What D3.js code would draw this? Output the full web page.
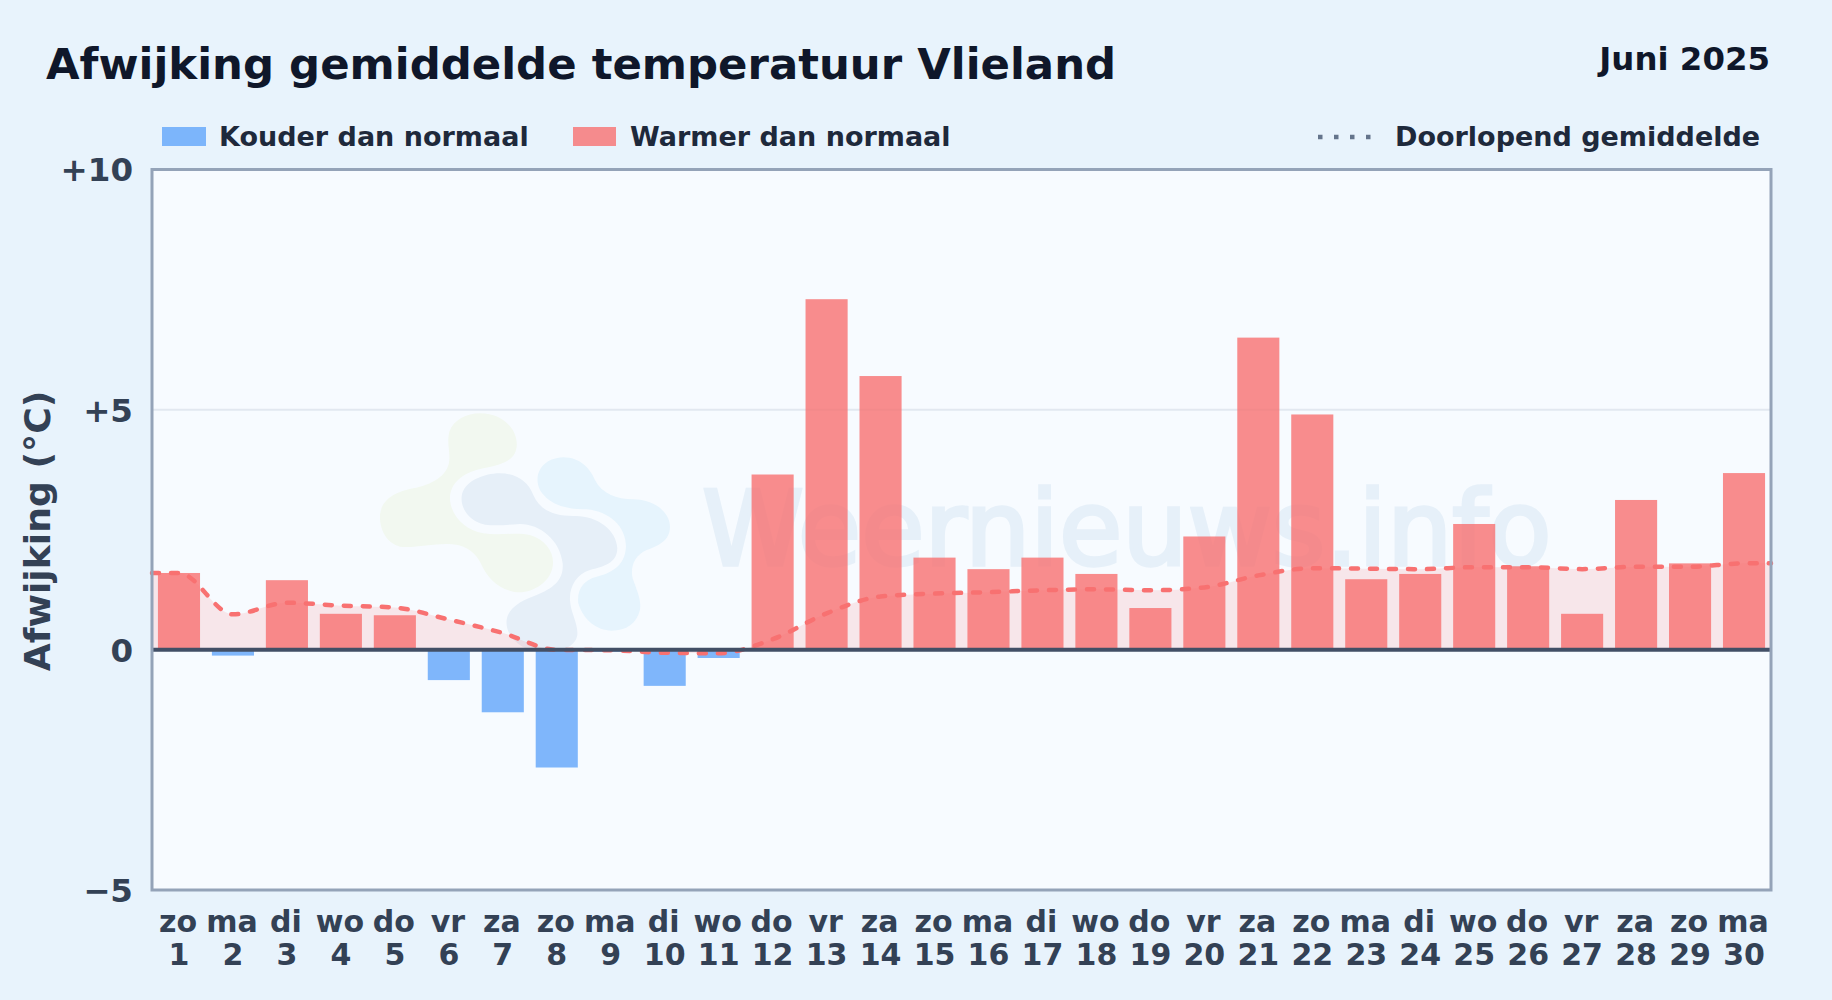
<!DOCTYPE html>
<html lang="nl">
<head>
<meta charset="utf-8">
<title>Afwijking gemiddelde temperatuur Vlieland</title>
<script src="https://cdn.jsdelivr.net/npm/d3@7"></script>
<style>
  html, body { margin: 0; padding: 0; background: #e8f3fc; }
  svg { display: block; font-family: "DejaVu Sans", sans-serif; font-weight: bold; }
</style>
</head>
<body>
<div class="graph"><svg></svg></div>
<script>
const days = ['1', '2', '3', '4', '5', '6', '7', '8', '9', '10', '11', '12', '13', '14', '15',
  '16', '17', '18', '19', '20', '21', '22', '23', '24', '25', '26', '27', '28', '29', '30']
const weekdays = ['zo', 'ma', 'di', 'wo', 'do', 'vr', 'za', 'zo', 'ma', 'di', 'wo', 'do', 'vr', 'za', 'zo',
  'ma', 'di', 'wo', 'do', 'vr', 'za', 'zo', 'ma', 'di', 'wo', 'do', 'vr', 'za', 'zo', 'ma']
const deviation = [1.6, -0.12, 1.45, 0.75, 0.72, -0.63, -1.3, -2.45, -0.04, -0.75, -0.17, 3.65, 7.3, 5.7, 1.92,
  1.68, 1.92, 1.58, 0.87, 2.36, 6.5, 4.9, 1.47, 1.58, 2.62, 1.74, 0.75, 3.12, 1.8, 3.68]
const runningMean = [1.6, 0.74, 0.98, 0.92, 0.88, 0.63, 0.35, 0.0, -0.01, -0.06, -0.07, 0.22, 0.76, 1.11, 1.17,
  1.2, 1.24, 1.26, 1.24, 1.3, 1.55, 1.7, 1.69, 1.68, 1.72, 1.72, 1.68, 1.73, 1.73, 1.8]
const yTicks = [-5, 0, 5, 10]
const yDomain = [-5, 10]

const WIDTH = 1832
const HEIGHT = 1000
const plot = { left: 152, right: 1771, top: 169.5, bottom: 890 }

const COLD = 'rgba(96, 165, 250, 0.8)'
const WARM = 'rgba(248, 113, 113, 0.8)'

const svg = d3.select('.graph').select('svg')
  .attr('width', WIDTH)
  .attr('height', HEIGHT)

const x = d3.scaleBand().domain(days).range([plot.left, plot.right]).paddingInner(0.22).paddingOuter(0.11)
const y = d3.scaleLinear().domain(yDomain).range([plot.bottom, plot.top])

/**
 * Draws the title, the month and the legend above the plot.
 */
function appendHeader () {
  svg.append('text')
    .text('Afwijking gemiddelde temperatuur Vlieland')
    .attr('x', 46).attr('y', 79)
    .attr('fill', '#0f172a')
    .attr('font-size', 43.4)

  svg.append('text')
    .text('Juni 2025')
    .attr('x', 1770).attr('y', 70)
    .attr('text-anchor', 'end')
    .attr('fill', '#0f172a')
    .attr('font-size', 32.4)

  svg.append('rect').attr('x', 162).attr('y', 127).attr('width', 44).attr('height', 19).attr('fill', COLD)
  svg.append('rect').attr('x', 573).attr('y', 127).attr('width', 43).attr('height', 19).attr('fill', WARM)
  svg.append('line')
    .attr('x1', 1318).attr('x2', 1376).attr('y1', 137).attr('y2', 137)
    .attr('stroke', '#64748b')
    .attr('stroke-width', 4.5)
    .attr('stroke-dasharray', '4.5 11.5')

  const labels = [['Kouder dan normaal', 219], ['Warmer dan normaal', 630], ['Doorlopend gemiddelde', 1395]]
  labels.forEach(([label, left]) => {
    svg.append('text')
      .text(label)
      .attr('x', left).attr('y', 146)
      .attr('fill', '#1e293b')
      .attr('font-size', 27)
  })
}

/**
 * Draws the faded logo and site name behind the bars.
 */
function appendWatermark () {
  const logo = svg.append('g').attr('transform', 'translate(340, 390) scale(0.3333)')
  logo.append('path')
    .attr('fill', '#f2f8f0')
    .attr('d', 'M420,70 C490,70 535,120 530,170 C525,215 480,225 430,235 C380,245 335,270 330,320 C328,370 370,420 430,430 C480,438 530,425 570,435 C620,450 645,490 638,530 C630,580 570,615 520,605 C470,595 440,560 420,515 C400,480 370,462 320,462 C270,462 220,475 180,470 C140,460 118,420 120,375 C125,325 170,305 220,295 C270,285 325,260 328,210 C330,180 320,160 328,125 C340,90 380,70 420,70 Z')
  logo.append('path')
    .attr('fill', '#e6eff8')
    .attr('d', 'M480,250 C530,250 565,275 580,315 C600,360 640,378 700,378 C770,375 830,420 832,475 C832,520 790,530 750,540 C710,552 688,590 690,630 C692,670 715,700 712,735 C705,780 640,790 590,785 C530,775 495,730 500,690 C505,650 550,630 590,615 C640,595 672,570 668,520 C660,450 600,402 540,402 C490,405 440,412 410,395 C380,380 362,350 365,320 C370,275 430,250 480,250 Z')
  logo.append('path')
    .attr('fill', '#e6f4fd')
    .attr('d', 'M670,202 C720,202 750,235 765,270 C785,310 830,328 880,328 C940,328 990,365 990,410 C990,450 960,465 920,480 C885,495 870,530 878,565 C890,600 905,630 900,660 C890,700 860,722 815,722 C770,722 730,690 715,640 C710,600 730,570 770,560 C810,550 855,530 858,470 C858,410 810,365 740,358 C690,358 630,350 600,300 C580,260 600,205 670,202 Z')

  svg.append('text')
    .text('Weernieuws.info')
    .attr('x', 702).attr('y', 565)
    .attr('fill', '#e6f0f9')
    .attr('stroke', '#e6f0f9')
    .attr('stroke-width', 3.5)
    .attr('font-weight', 'normal')
    .attr('font-size', 103)
}

/**
 * Draws the running mean, its filled area and the bars.
 */
function appendSeries () {
  const center = (i) => x(days[i]) + x.bandwidth() / 2
  const points = runningMean.map((v, i) => [center(i), v])
  points.unshift([plot.left, runningMean[0]])
  points.push([plot.right, runningMean[runningMean.length - 1]])

  svg.append('path')
    .attr('fill', 'rgba(248, 113, 113, 0.15)')
    .attr('d', d3.area()
      .x((d) => d[0])
      .y0(y(0))
      .y1((d) => y(d[1]))
      .curve(d3.curveMonotoneX)(points))

  svg.append('g')
    .selectAll('rect')
    .data(deviation)
    .join('rect')
    .attr('x', (d, i) => x(days[i]))
    .attr('y', (d) => y(Math.max(d, 0)))
    .attr('width', x.bandwidth())
    .attr('height', (d) => Math.abs(y(d) - y(0)))
    .attr('fill', (d) => d < 0 ? COLD : WARM)

  svg.append('path')
    .attr('fill', 'none')
    .attr('stroke', '#f87171')
    .attr('stroke-width', 4.5)
    .attr('stroke-linecap', 'round')
    .attr('stroke-dasharray', '7 12')
    .attr('d', d3.line()
      .x((d) => d[0])
      .y((d) => y(d[1]))
      .curve(d3.curveMonotoneX)(points))
}

/**
 * Draws the axes, the zero line and the plot border.
 */
function appendAxes () {
  const format = (d) => d > 0 ? '+' + d : d < 0 ? '\u2212' + Math.abs(d) : '0'
  const yAxis = svg.append('g')
    .attr('transform', `translate(${plot.left}, 1)`)
    .call(d3.axisLeft(y).tickValues(yTicks).tickFormat(format).tickSize(0).tickPadding(19))
  yAxis.select('.domain').remove()
  yAxis.selectAll('text')
    .attr('fill', '#334155')
    .attr('font-size', 32.5)
    .attr('font-family', '"DejaVu Sans", sans-serif')

  const xAxis = svg.append('g')
    .attr('transform', `translate(0, ${plot.bottom})`)
    .call(d3.axisBottom(x).tickFormat((d, i) => weekdays[i]).tickSize(0))
  xAxis.select('.domain').remove()
  xAxis.selectAll('text')
    .attr('fill', '#334155')
    .attr('font-size', 30)
    .attr('font-family', '"DejaVu Sans", sans-serif')
    .attr('x', -1)
    .attr('y', 42)
    .attr('dy', 0)
  xAxis.selectAll('.tick')
    .append('text')
    .text((d) => d)
    .attr('y', 75)
    .attr('text-anchor', 'middle')
    .attr('fill', '#334155')
    .attr('font-size', 30)
    .attr('font-family', '"DejaVu Sans", sans-serif')

  svg.append('text')
    .text('Afwijking (°C)')
    .attr('transform', 'translate(50, 531) rotate(-90)')
    .attr('text-anchor', 'middle')
    .attr('fill', '#334155')
    .attr('font-size', 36.2)

  svg.append('line')
    .attr('x1', plot.left).attr('x2', plot.right).attr('y1', y(0)).attr('y2', y(0))
    .attr('stroke', '#424f66')
    .attr('stroke-width', 4)

  svg.append('rect')
    .attr('x', plot.left).attr('y', plot.top)
    .attr('width', plot.right - plot.left)
    .attr('height', plot.bottom - plot.top)
    .attr('fill', 'none')
    .attr('stroke', '#94a3b8')
    .attr('stroke-width', 3)
}

svg.append('rect')
  .attr('width', WIDTH).attr('height', HEIGHT)
  .attr('fill', '#e8f3fc')
svg.append('rect')
  .attr('x', plot.left).attr('y', plot.top)
  .attr('width', plot.right - plot.left)
  .attr('height', plot.bottom - plot.top)
  .attr('fill', '#f7fbff')

appendWatermark()
svg.append('line')
  .attr('x1', plot.left).attr('x2', plot.right).attr('y1', y(5)).attr('y2', y(5))
  .attr('stroke', '#e2e8f0')
  .attr('stroke-width', 2)
appendSeries()
appendAxes()
appendHeader()
</script>
</body>
</html>
